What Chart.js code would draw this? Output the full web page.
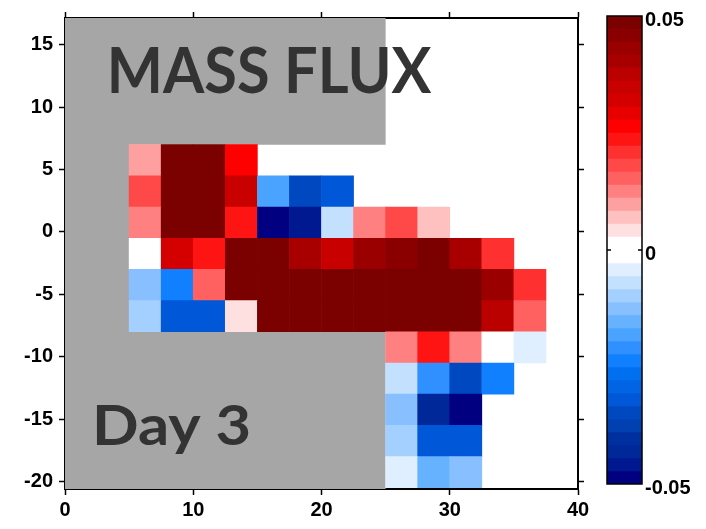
<!DOCTYPE html>
<html>
<head>
<meta charset="utf-8">
<script src="https://cdn.jsdelivr.net/npm/chart.js@4.4.1/dist/chart.umd.min.js"></script>
<style>
  html, body { margin: 0; padding: 0; background: #fff; }
  #wrap { position: relative; width: 706px; height: 529px; }
  #fluxChart { position: absolute; left: 0; top: 0; }
  #barChart { position: absolute; left: 600px; top: 0; }
</style>
</head>
<body>
<div id="wrap">
  <canvas id="fluxChart" width="706" height="529"></canvas>
  <canvas id="barChart" width="106" height="529"></canvas>
</div>
<script>
    // cell centres of the flux grid
    const xCenters = [6.25, 8.75, 11.25, 13.75, 16.25, 18.75, 21.25, 23.75, 26.25, 28.75, 31.25, 33.75, 36.25];
    const yCenters = [5.75, 3.25, 0.75, -1.75, -4.25, -6.75, -9.25, -11.75, -14.25, -16.75, -19.25];
    const cellSize = 2.5;

    // day 3 mass flux, one row per yCenters entry (null = no data)
    const flux = [
      [0.010, 0.061, 0.058, 0.026, null, null, null, null, null, null, null, null, null],
      [0.018, 0.066, 0.059, 0.0345, -0.018, -0.0345, -0.032, null, null, null, null, null, null],
      [0.0125, 0.057, 0.063, 0.0235, -0.052, -0.046, -0.007, 0.0125, 0.018, 0.007, null, null, null],
      [0.001, 0.032, 0.0235, 0.054, 0.051, 0.040, 0.0345, 0.043, 0.046, 0.049, 0.040, 0.021, null],
      [-0.0125, -0.0235, 0.015, 0.068, 0.072, 0.064, 0.070, 0.066, 0.061, 0.058, 0.053, 0.043, 0.021],
      [-0.010, -0.032, -0.032, 0.004, 0.060, 0.065, 0.071, 0.069, 0.063, 0.059, 0.055, 0.0375, 0.015],
      [null, null, null, null, null, null, null, null, 0.0125, 0.0235, 0.0125, 0.002, -0.004],
      [null, null, null, null, null, null, null, null, -0.007, -0.021, -0.0345, -0.0235, null],
      [null, null, null, null, null, null, null, null, -0.0125, -0.043, -0.055, null, null],
      [null, null, null, null, null, null, null, null, -0.010, -0.032, -0.032, null, null],
      [null, null, null, null, null, null, null, null, -0.004, -0.015, -0.0125, null, null]
    ];

    // land outline (grey)
    const land = [[0, -20.6], [25, -20.6], [25, -8], [5, -8], [5, 7], [25, 7], [25, 17.15], [0, 17.15]];

    const xTicks = [0, 10, 20, 30, 40];
    const yTicks = [-20, -15, -10, -5, 0, 5, 10, 15];
    const barTicks = [-0.05, 0, 0.05];

    // 18 levels each side of zero, level 0 is white
    const reds = ['#ffffff', '#ffe0e0', '#ffc0c0', '#ffa0a0', '#ff8080', '#ff6060', '#ff4848', '#ff3030', '#ff1414',
      '#ff0000', '#e80000', '#d40000', '#c80000', '#bb0000', '#a80000', '#9a0000', '#8a0000', '#7b0000'];
    const blues = ['#ffffff', '#e0efff', '#c4e0ff', '#a4d0ff', '#88c0ff', '#66b2ff', '#4aa4ff', '#3090ff', '#1080ff',
      '#0070f0', '#0064e4', '#0058d8', '#0048c0', '#0040b0', '#0030a0', '#002898', '#001890', '#000080'];
    const fluxMax = 0.05;
    const step = fluxMax / reds.length;

    function levelColor(v) {
      const k = Math.min(reds.length - 1, Math.floor(Math.abs(v) / step + 1e-9));
      return v >= 0 ? reds[k] : blues[k];
    }

    const cells = [];
    yCenters.forEach((y, r) => {
      xCenters.forEach((x, c) => {
        const v = flux[r][c];
        if (v !== null) cells.push({ x: x, y: [y - cellSize / 2, y + cellSize / 2], v: v });
      });
    });

    const tickFont = { family: '"Liberation Sans", Arial, sans-serif', size: 20, weight: 'bold' };

    const landPlugin = {
      id: 'land',
      beforeDatasetsDraw(chart) {
        const { ctx, scales: { x, y } } = chart;
        ctx.save();
        ctx.fillStyle = '#a6a6a6';
        ctx.beginPath();
        land.forEach(([lx, ly], i) => {
          const px = x.getPixelForValue(lx), py = y.getPixelForValue(ly);
          if (i) ctx.lineTo(px, py); else ctx.moveTo(px, py);
        });
        ctx.closePath();
        ctx.fill();
        ctx.restore();
      }
    };

    // big captions, squeezed to the width of the original lettering
    function drawCaption(ctx, text, left, baseline, size, width) {
      ctx.save();
      ctx.font = 'bold ' + size + 'px Lato, "Open Sans", sans-serif';
      ctx.textAlign = 'left';
      ctx.textBaseline = 'alphabetic';
      const m = ctx.measureText(text);
      const ink = m.actualBoundingBoxLeft + m.actualBoundingBoxRight;
      ctx.translate(left, baseline);
      ctx.scale(width / ink, 1);
      ctx.fillStyle = '#333333';
      ctx.fillText(text, m.actualBoundingBoxLeft, 0);
      ctx.restore();
    }

    const captionPlugin = {
      id: 'captions',
      afterDatasetsDraw(chart) {
        drawCaption(chart.ctx, 'MASS FLUX', 111.5, 93, 64, 320);
        drawCaption(chart.ctx, 'Day 3', 96.5, 445, 56, 152);
      }
    };

    function axis(position, min, max, ticks, showLabels, size) {
      return {
        type: 'linear', position: position, min: min, max: max, offset: false, beginAtZero: false, z: 1,
        afterBuildTicks: s => { s.ticks = ticks.map(value => ({ value })); },
        afterFit: s => { if (s.isHorizontal()) s.height = size; else s.width = size; },
        grid: { offset: false, drawOnChartArea: false, drawTicks: true, tickLength: 6, tickWidth: 1.5, color: '#000' },
        border: { display: true, color: '#000', width: 2 },
        ticks: { display: showLabels, color: '#000', font: tickFont, padding: showLabels && position === 'left' ? 6 : 3, maxRotation: 0 }
      };
    }

    new Chart(document.getElementById('fluxChart'), {
      type: 'bar',
      data: {
        datasets: [{
          data: cells,
          backgroundColor: c => levelColor(c.raw.v),
          borderWidth: 0,
          barPercentage: 1,
          categoryPercentage: 1
        }]
      },
      options: {
        responsive: false,
        animation: false,
        layout: { padding: 0 },
        plugins: { legend: { display: false }, tooltip: { enabled: false } },
        scales: {
          x: axis('bottom', 0, 40, xTicks, true, 40),
          x2: axis('top', 0, 40, xTicks, false, 14),
          y: axis('left', -20.6, 17.15, yTicks, true, 65),
          y2: axis('right', -20.6, 17.15, yTicks, false, 128)
        }
      },
      plugins: [landPlugin, captionPlugin]
    });

    // colour bar, 36 bands of 13px so the band edges sit on whole pixels
    const barSets = [];
    reds.forEach((col, k) => barSets.push({ data: [[k * step, (k + 1) * step]], backgroundColor: col }));
    blues.forEach((col, k) => barSets.push({ data: [[-(k + 1) * step, -k * step]], backgroundColor: col }));

    const barFrame = {
      id: 'barFrame',
      afterDatasetsDraw(chart) {
        const { ctx, chartArea: a, scales: { y } } = chart;
        const y0 = y.getPixelForValue(0);
        ctx.save();
        ctx.strokeStyle = '#000';
        ctx.lineWidth = 1.5;
        ctx.strokeRect(a.left, a.top, a.right - a.left, a.bottom - a.top);
        ctx.beginPath();
        ctx.moveTo(a.left, y0); ctx.lineTo(a.left + 4, y0);
        ctx.moveTo(a.right, y0); ctx.lineTo(a.right - 4, y0);
        ctx.stroke();
        ctx.restore();
      }
    };

    new Chart(document.getElementById('barChart'), {
      type: 'bar',
      data: { labels: [''], datasets: barSets },
      options: {
        responsive: false,
        animation: false,
        grouped: false,
        barPercentage: 1,
        categoryPercentage: 1,
        borderWidth: 0,
        layout: { padding: { left: 7, top: 16, bottom: 45, right: 0 } },
        plugins: { legend: { display: false }, tooltip: { enabled: false } },
        scales: {
          x: { display: false },
          y: {
            position: 'right', min: -fluxMax, max: fluxMax, beginAtZero: false,
            afterBuildTicks: s => { s.ticks = barTicks.map(value => ({ value })); },
            afterFit: s => { s.width = 64; },
            grid: { display: false, drawTicks: false },
            border: { display: false },
            ticks: { color: '#000', font: tickFont, padding: 3, labelOffset: 4,
              callback: v => v === 0 ? '0' : v.toFixed(2) }
          }
        }
      },
      plugins: [barFrame]
    });
</script>
</body>
</html>
